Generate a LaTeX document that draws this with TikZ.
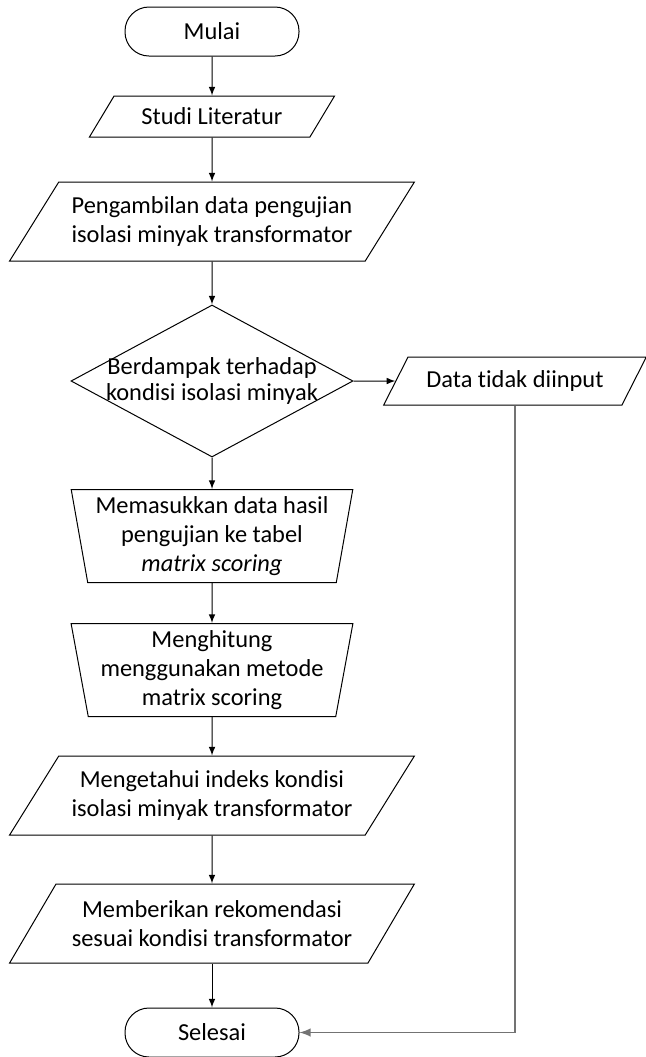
\documentclass[tikz,border=0pt]{standalone}
\usepackage{fontspec}
\setmainfont{Carlito}[Ligatures=NoCommon]
\usetikzlibrary{shapes.geometric}

\begin{document}
\begin{tikzpicture}[x=0.5pt,y=-0.5pt]

\def\col{212}

\tikzset{
    every node/.style={font=\fontsize{12.2pt}{14.6pt}\selectfont, align=center},
    wire/.style={->, >=latex, draw, line width=0.5pt},
    back wire/.style={wire, draw=black!55, line width=0.9pt},
    terminal/.style={rectangle, rounded corners=12pt, minimum width=87pt, minimum height=24.5pt, line width=0.5pt, draw},
    io/.style={trapezium, trapezium left angle=48, trapezium right angle=132, trapezium stretches=true,
        minimum width=202.5pt, minimum height=39.5pt, inner sep=0pt, line width=0.5pt, draw},
    manual/.style={trapezium, trapezium left angle=79, trapezium right angle=79, shape border rotate=180,
        trapezium stretches=true, minimum width=141pt, minimum height=46.5pt, inner sep=0pt, line width=0.5pt, draw},
    decision/.style={diamond, minimum width=141pt, minimum height=76pt, inner sep=0pt, line width=0.5pt, draw}
}

\useasboundingbox (0,0) rectangle (646,1057);

\node[terminal] (MULAI) at (\col,31.5) {Mulai};
\node[io, minimum width=123pt, minimum height=20.5pt, trapezium left angle=44, trapezium right angle=136] (STUDI) at (\col,116.5) {Studi Literatur};
\node[io] (AMBIL) at (\col,221.5) {Pengambilan data pengujian\\isolasi minyak transformator};
\node[decision, label={[align=center, font=\fontsize{12.2pt}{13.2pt}\selectfont]center:Berdampak terhadap\\kondisi isolasi minyak}] (DAMPAK) at (\col,381) {};
\node[io, minimum width=131.5pt, minimum height=24pt, trapezium left angle=46, trapezium right angle=134] (DATA) at (515,381) {Data tidak diinput};
\node[manual] (MASUK) at (\col,536) {Memasukkan data hasil\\pengujian ke tabel\\\textit{matrix scoring}};
\node[manual] (HITUNG) at (\col,670) {Menghitung\\menggunakan metode\\matrix scoring};
\node[io] (TAHU) at (\col,795.5) {Mengetahui indeks kondisi\\isolasi minyak transformator};
\node[io] (REKOM) at (\col,923.5) {Memberikan rekomendasi\\sesuai kondisi transformator};
\node[terminal] (SELESAI) at (\col,1032.5) {Selesai};

% alur utama
\foreach \a/\b in {MULAI/STUDI, STUDI/AMBIL, AMBIL/DAMPAK, DAMPAK/MASUK, MASUK/HITUNG, HITUNG/TAHU, TAHU/REKOM, REKOM/SELESAI}
    \path[wire] (\a) -- (\b);

\path[wire] (DAMPAK) -- (DATA);
\path[back wire] (DATA) |- (SELESAI);

\end{tikzpicture}
\end{document}
